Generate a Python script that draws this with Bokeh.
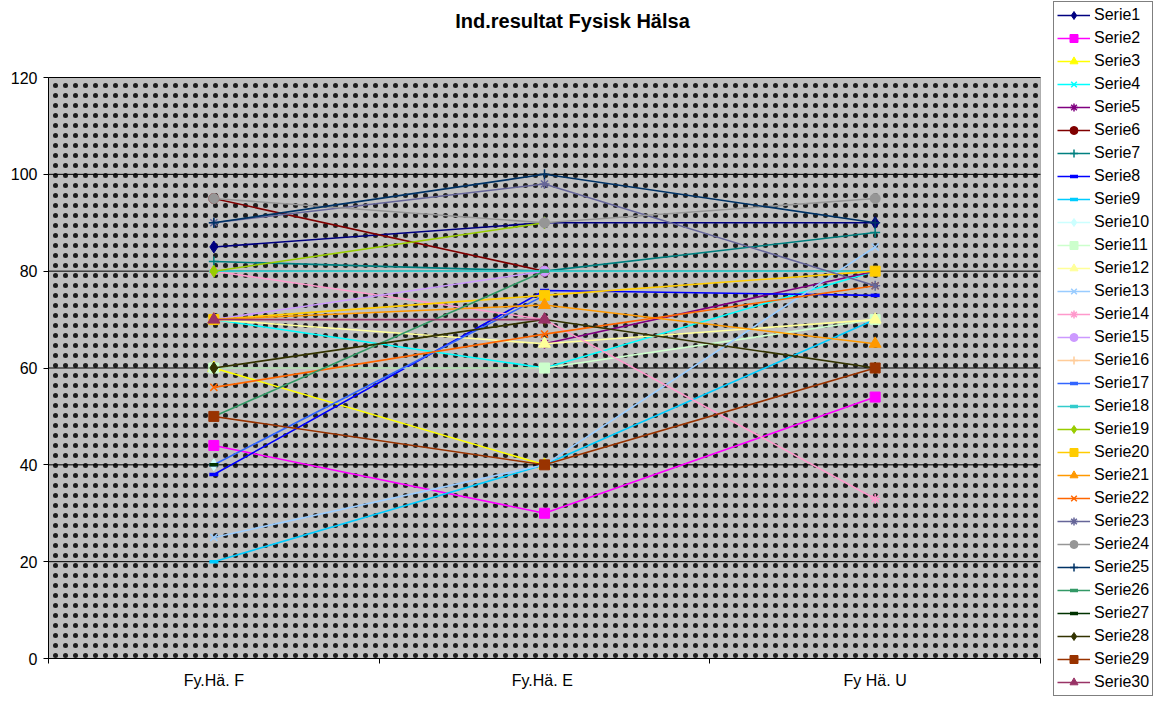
import numpy as np
from bokeh.plotting import figure
from bokeh.models import FixedTicker, BoxAnnotation, Range1d, Label
from bokeh.embed import file_html
from bokeh.resources import INLINE

categories = ["Fy.Hä. F", "Fy.Hä.  E", "Fy Hä. U"]
y_ticks = [0, 20, 40, 60, 80, 100, 120]

serie1 = [85, 90, 90]
serie2 = [44, 30, 54]
serie3 = [60, 40, None]
serie4 = [70, 60, 80]
serie5 = [None, 65, 80]
serie6 = [95, 80, None]
serie7 = [82, 80, 88]
serie8 = [38, 76, 75]
serie9 = [20, 40, 70]
serie10 = [40, None, None]
serie11 = [60, 60, 70]
serie12 = [70, 65, 70]
serie13 = [25, 40, 85]
serie14 = [80, 70, 33]
serie15 = [70, 80, None]
serie16 = [None, None, None]
serie17 = [40, 75, None]
serie18 = [80, 80, 80]
serie19 = [80, 90, None]
serie20 = [70, 75, 80]
serie21 = [70, 73, 65]
serie22 = [56, 67, 77]
serie23 = [90, 98, 77]
serie24 = [95, 90, 95]
serie25 = [90, 100, 90]
serie26 = [50, 80, None]
serie27 = [40, None, None]
serie28 = [60, 70, 60]
serie29 = [50, 40, 60]
serie30 = [70, 70, None]

series = [serie1, serie2, serie3, serie4, serie5, serie6, serie7, serie8, serie9, serie10,
          serie11, serie12, serie13, serie14, serie15, serie16, serie17, serie18, serie19, serie20,
          serie21, serie22, serie23, serie24, serie25, serie26, serie27, serie28, serie29, serie30]
names = ["Serie%d" % (i + 1) for i in range(len(series))]

colors = ["#000080", "#FF00FF", "#FFFF00", "#00FFFF", "#800080", "#800000", "#008080", "#0000FF",
          "#00CCFF", "#CCFFFF", "#CCFFCC", "#FFFF99", "#99CCFF", "#FF99CC", "#CC99FF", "#FFCC99",
          "#3366FF", "#33CCCC", "#99CC00", "#FFCC00", "#FF9900", "#FF6600", "#666699", "#969696",
          "#003366", "#339966", "#003300", "#333300", "#993300", "#993366"]
markers = ["diamond", "square", "triangle", "x", "asterisk", "circle", "cross", "dash",
           "dash", "diamond", "square", "triangle", "x", "asterisk", "circle", "cross",
           "dash", "dash", "diamond", "square", "triangle", "x", "asterisk", "circle",
           "cross", "dash", "dash", "diamond", "square", "triangle"]

# canvas / plot-area geometry in pixels
W, H = 1156, 706
PL, PR, PT, PB = 48, 1040, 77, 658
ncat = len(categories)
ymax = y_ticks[-1]
xu = ncat / (PR - PL)
yu = ymax / (PB - PT)

p = figure(width=W, height=H, output_backend="svg", toolbar_location=None,
           x_range=Range1d(-PL * xu, ncat + (W - PR) * xu),
           y_range=Range1d(-(H - PB) * yu, ymax + PT * yu),
           min_border=0)
p.background_fill_color = "white"
p.border_fill_color = "white"
p.outline_line_color = None
p.grid.visible = False

bg = BoxAnnotation(left=0, right=ncat, bottom=0, top=ymax,
                   fill_color="#C0C0C0", fill_alpha=1, line_color="#404040", line_width=1,
                   hatch_pattern=".", hatch_color="#000000", hatch_alpha=0.85,
                   hatch_scale=10, hatch_weight=0.55, level="image")
p.add_layout(bg)

# horizontal gridlines inside the plot area
p.segment(x0=[0] * len(y_ticks), x1=[ncat] * len(y_ticks), y0=y_ticks, y1=y_ticks,
          line_color="black", line_width=1)

p.yaxis.fixed_location = 0
p.yaxis.bounds = (0, ymax)
p.yaxis.ticker = FixedTicker(ticks=y_ticks)
p.yaxis.major_tick_in = 0
p.yaxis.major_tick_out = 5
p.yaxis.minor_tick_out = 0
p.yaxis.minor_tick_in = 0
p.yaxis.major_label_standoff = 6
p.yaxis.axis_line_color = "black"
p.yaxis.major_label_text_font = "Liberation Sans"
p.yaxis.major_label_text_font_size = "16px"
p.yaxis.major_label_text_color = "black"

xs = [i + 0.5 for i in range(ncat)]
p.xaxis.fixed_location = 0
p.xaxis.bounds = (0, ncat)
p.xaxis.ticker = FixedTicker(ticks=xs, minor_ticks=list(range(ncat + 1)))
p.xaxis.major_label_overrides = {x: c for x, c in zip(xs, categories)}
p.xaxis.major_tick_in = 0
p.xaxis.major_tick_out = 0
p.xaxis.minor_tick_in = 0
p.xaxis.minor_tick_out = 5
p.xaxis.minor_tick_line_color = "black"
p.xaxis.major_label_standoff = 8
p.xaxis.axis_line_color = "black"
p.xaxis.major_label_text_font = "Liberation Sans"
p.xaxis.major_label_text_font_size = "16px"
p.xaxis.major_label_text_color = "black"

for vals, name, col, mk in zip(series, names, colors, markers):
    y = np.array([np.nan if v is None else v for v in vals], dtype=float)
    p.line(xs, y, line_color=col, line_width=1.6, legend_label=name)
    if mk in ("x", "asterisk", "cross"):
        p.scatter(xs, y, marker=mk, size=10, line_color=col, line_width=1.5,
                  fill_color=col, legend_label=name)
    elif mk == "dash":
        p.scatter(xs, y, marker=mk, size=9, line_color=col, line_width=3.5, legend_label=name)
    elif mk in ("diamond", "triangle"):
        p.scatter(xs, y, marker=mk, size=12, line_color=col, fill_color=col, legend_label=name)
    else:
        p.scatter(xs, y, marker=mk, size=10, line_color=col, fill_color=col, legend_label=name)

lg = p.legend[0]
lg.location = (1053, H - 696)
lg.label_text_font = "Liberation Sans"
lg.label_text_font_size = "16px"
lg.label_text_color = "black"
lg.glyph_width = 33
lg.glyph_height = 20
lg.label_height = 20
lg.spacing = 3
lg.padding = 3
lg.margin = 0
lg.label_standoff = 4
lg.border_line_color = "black"
lg.border_line_width = 1
lg.background_fill_color = "white"
lg.background_fill_alpha = 1

title = Label(x=572, y=H - 20, x_units="screen", y_units="screen",
              text="Ind.resultat Fysisk Hälsa", text_font="Liberation Sans",
              text_font_style="bold", text_font_size="20px", text_color="black",
              text_align="center", text_baseline="middle")
p.add_layout(title)

open("out.html", "w").write(file_html(p, INLINE))
